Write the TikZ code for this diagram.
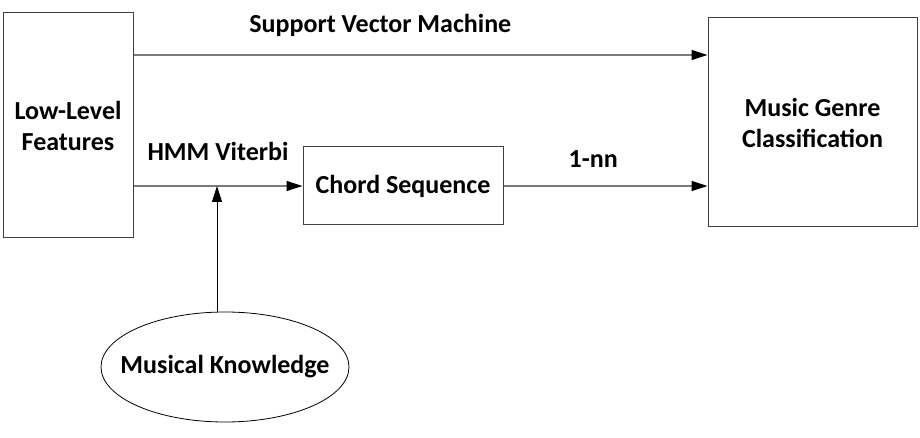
\documentclass[tikz,border=0pt]{standalone}
\usepackage{fontspec}
\setmainfont{Carlito}
\usepackage{xcolor}
\usepackage{tikz}
\usetikzlibrary{shapes,arrows,positioning,calc,shapes.geometric,arrows.meta}
\definecolor{boxline}{HTML}{404040}
\definecolor{flowline}{HTML}{7A7A7A}

\begin{document}
\begin{tikzpicture}[x=1pt, y=-1pt, node distance=2cm, auto,
    font=\fontsize{26}{31}\selectfont\bfseries,
    flow/.style={draw=flowline, line width=1.2pt, -{Triangle[length=16pt,width=10pt,color=black]}},
    lbl/.style={anchor=base, inner sep=0pt}]
    \useasboundingbox (0,0) rectangle (920,438);
    \node[rectangle, draw=boxline, line width=1pt, align=center, minimum width=130pt, minimum height=225pt] (features) at (68,125.5) {Low-Level\\Features};
    \node[rectangle, draw=boxline, line width=1pt, align=center, minimum width=209pt, minimum height=209pt] (genre) at (812.5,122.5) {Music Genre\\Classification};
    \node[rectangle, draw=boxline, line width=1pt, align=center, minimum width=200pt, minimum height=78pt] (chord) at (403,186) {Chord Sequence};
    \node[draw, ellipse, line width=0.8pt, inner sep=0pt, minimum width=248pt, minimum height=110pt, label=center:{Musical Knowledge}] (knowledge) at (225,367) {};
    \coordinate (svm) at (0,55);

    \draw[flow] (features.east |- svm) -- node[lbl, pos=0.43, yshift=22pt] {Support Vector Machine} (genre.west |- svm);
    \draw[flow] (features.east |- chord.west) -- node[lbl, midway, yshift=25pt] {HMM Viterbi} (chord.west);
    \draw[flow, draw=black, line width=1pt] ([xshift=-8pt]knowledge.north) -- ([xshift=-8pt]knowledge.north |- chord.west);
    \draw[flow] (chord.east) -- node[lbl, pos=0.44, yshift=18pt] {1-nn} (genre.west |- chord.east);
\end{tikzpicture}
\end{document}
